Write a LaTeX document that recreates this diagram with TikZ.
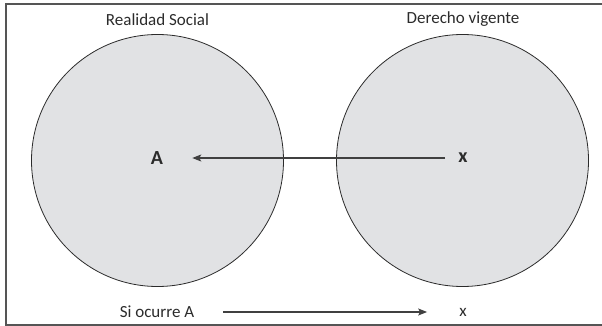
\documentclass[tikz,border=0pt]{standalone}
\usepackage{fontspec}
\setmainfont{Carlito}
\usetikzlibrary{arrows.meta}
\definecolor{circfill}{HTML}{E1E2E4}
\definecolor{inkc}{HTML}{2B2B2B}
\begin{document}
\begin{tikzpicture}[x=1pt,y=-1pt,
  title/.style={font=\fontsize{17}{20}\selectfont, text=inkc, inner sep=0pt},
  bigsym/.style={font=\fontsize{20}{24}\selectfont\bfseries, text=inkc, inner sep=0pt},
  plain/.style={font=\fontsize{17}{20}\selectfont, text=inkc, inner sep=0pt},
  circ/.style={circle, draw=inkc, line width=0.8pt, fill=circfill, minimum size=252pt, inner sep=0pt},
  conn/.style={draw=inkc!90, line width=1.2pt, -{Stealth[length=9pt,width=7pt,inset=2pt]}}]
\useasboundingbox (0,0) rectangle (602,326);
\begin{scope}
\clip (0,0) rectangle (602,326);
\draw[draw=inkc!80, line width=1.3pt] (6,4) rectangle (620,325);
\end{scope}
\node[circ] (left) at (157.5,160.5) {};
\node[circ] (right) at (462.5,160.5) {};
\node[title] (tl) at (157.5,20) {Realidad Social};
\node[title] (tr) at (463,19) {Derecho vigente};
\node[bigsym] (A) at (157,158) {A};
\node[bigsym] (X) at (463,158) {x};
\draw[conn, shorten <=13pt, shorten >=29pt] (X.west) -- (A.east |- X.west);
\node[plain] (si) at (157,312) {Si ocurre A};
\node[plain] (x2) at (463,312) {x};
\draw[conn, shorten <=29pt, shorten >=32pt] (si.east) -- (x2.west |- si.east);
\end{tikzpicture}
\end{document}
